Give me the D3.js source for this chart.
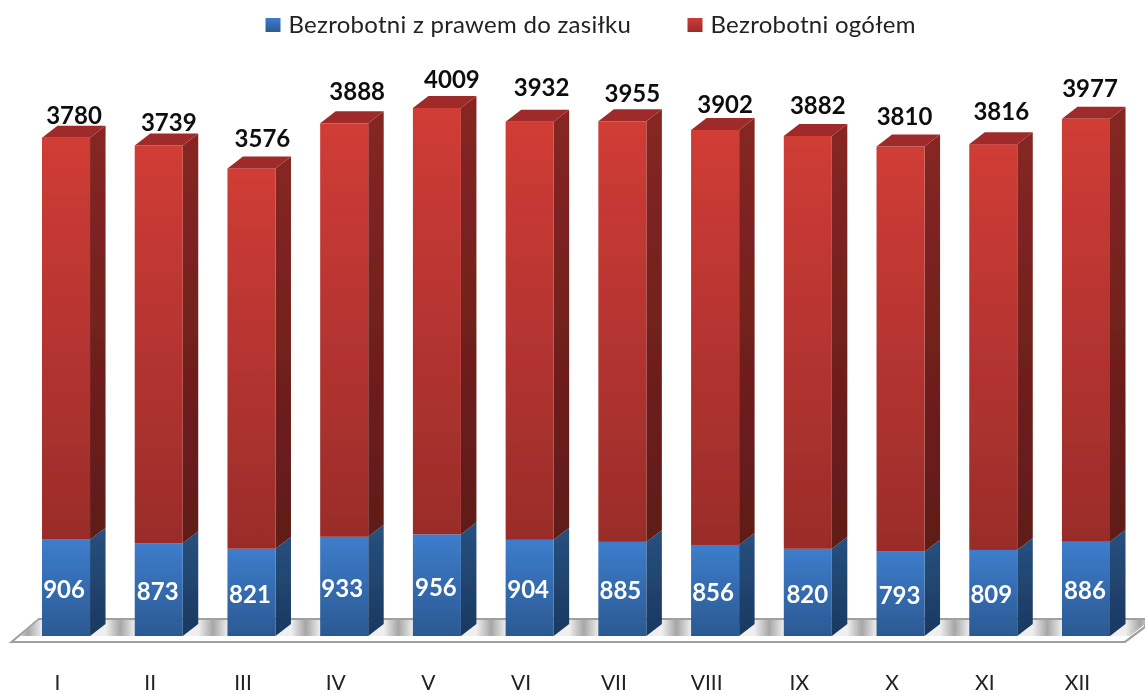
<!DOCTYPE html>
<html>
<head>
<meta charset="utf-8">
<script src="https://cdn.jsdelivr.net/npm/d3@7"></script>
<style>
  html, body { margin: 0; padding: 0; background: #fff; }
  text { font-family: Lato, "Open Sans", sans-serif; }
</style>
</head>
<body>
<div id="chart-area"></div>
<script>
var months = ["I", "II", "III", "IV", "V", "VI", "VII", "VIII", "IX", "X", "XI", "XII"];
var zasilek = [906, 873, 821, 933, 956, 904, 885, 856, 820, 793, 809, 886];
var ogolem = [3780, 3739, 3576, 3888, 4009, 3932, 3955, 3902, 3882, 3810, 3816, 3977];
var seriesNames = ["Bezrobotni z prawem do zasiłku", "Bezrobotni ogółem"];

// the value labels were placed by hand in the original, so they get nudged
var topNudgeX = [8, 10, 11, 13, 15, 12, 10, 10, 10, 4, 8, 4];
var topNudgeY = [22, 23, 30, 32, 28, 34, 28, 25, 30, 30, 33, 30];
var blueNudgeX = [-2, -1, -1.5, -2, -1, -1.5, -2, -2, -0.5, -1, -2, -1];

var width = 1145, height = 693;
var depthX = 15.5, depthY = 12;

var svg = d3.select("#chart-area")
  .append("svg")
    .attr("width", width)
    .attr("height", height)
    .style("display", "block");

var x = d3.scaleBand()
  .domain(months)
  .range([42, 1110])
  .paddingInner(0.482)
  .paddingOuter(0);

var y = d3.scaleLinear()
  .domain([0, 4965])
  .range([636, 108]);

var defs = svg.append("defs");
function gradient(id, top, bottom) {
  var g = defs.append("linearGradient").attr("id", id)
    .attr("x1", 0).attr("y1", 0).attr("x2", 0).attr("y2", 1);
  g.append("stop").attr("offset", "0%").attr("stop-color", top);
  g.append("stop").attr("offset", "100%").attr("stop-color", bottom);
}
gradient("redFront", "#d03c36", "#9a2c2a");
gradient("redSide", "#862623", "#5f1a18");
gradient("blueFront", "#3d7dcc", "#2b5992");
gradient("blueSide", "#26517f", "#1b385f");

// grey patch in every gap between two bars
var floorGrad = defs.append("linearGradient").attr("id", "floorGrad")
  .attr("gradientUnits", "userSpaceOnUse")
  .attr("x1", 74).attr("x2", 166.7).attr("y1", 0).attr("y2", 0)
  .attr("spreadMethod", "repeat");
floorGrad.append("stop").attr("offset", "34%").attr("stop-color", "#efefef");
floorGrad.append("stop").attr("offset", "50%").attr("stop-color", "#a6a6a6");
floorGrad.append("stop").attr("offset", "66%").attr("stop-color", "#efefef");

// source image is a soft upscale
defs.append("filter").attr("id", "soft")
  .attr("filterUnits", "userSpaceOnUse")
  .attr("x", 0).attr("y", 0).attr("width", width).attr("height", height)
  .append("feGaussianBlur").attr("stdDeviation", 0.45);

var root = svg.append("g").attr("filter", "url(#soft)");

// floor
var base = y(0);
root.append("path")
  .attr("d", "M11.5," + (base + 6) + "L39," + (base - 17) + "L1145," + (base - 17)
    + "L1145," + (base - 9) + "L1125," + (base + 6) + "Z")
  .attr("fill", "#fff")
  .attr("stroke", "#a0a0a0")
  .attr("stroke-width", 2.2);
root.append("path")
  .attr("d", "M20," + base + "L39," + (base - 16) + "L1145," + (base - 16)
    + "L1145," + (base - 12) + "L1130," + base + "Z")
  .attr("fill", "url(#floorGrad)");

function sidePath(d, y0, y1) {
  var r = x(d) + x.bandwidth();
  return "M" + r + "," + y0 + "L" + (r + depthX) + "," + (y0 - depthY)
    + "L" + (r + depthX) + "," + (y1 - depthY) + "L" + r + "," + y1 + "Z";
}

var bars = root.selectAll("g.bar")
  .data(months)
  .enter()
  .append("g")
    .attr("class", "bar");

// blue part
bars.append("path")
  .attr("d", function(d, i) { return sidePath(d, y(zasilek[i]), y(0)); })
  .attr("fill", "url(#blueSide)");
bars.append("rect")
  .attr("x", function(d) { return x(d); })
  .attr("y", function(d, i) { return y(zasilek[i]); })
  .attr("width", x.bandwidth())
  .attr("height", function(d, i) { return y(0) - y(zasilek[i]); })
  .attr("fill", "url(#blueFront)");

// red part sits on top of the blue one
bars.append("path")
  .attr("d", function(d, i) { return sidePath(d, y(zasilek[i] + ogolem[i]), y(zasilek[i])); })
  .attr("fill", "url(#redSide)");
bars.append("rect")
  .attr("x", function(d) { return x(d); })
  .attr("y", function(d, i) { return y(zasilek[i] + ogolem[i]); })
  .attr("width", x.bandwidth())
  .attr("height", function(d, i) { return y(zasilek[i]) - y(zasilek[i] + ogolem[i]); })
  .attr("fill", "url(#redFront)");
bars.append("path")
  .attr("d", function(d, i) {
    var t = y(zasilek[i] + ogolem[i]), l = x(d), r = l + x.bandwidth();
    return "M" + l + "," + t + "L" + (l + depthX) + "," + (t - depthY)
      + "L" + (r + depthX) + "," + (t - depthY) + "L" + r + "," + t + "Z";
  })
  .attr("fill", "#9e2b29");

// value labels
bars.append("text")
  .attr("x", function(d, i) { return x(d) + x.bandwidth() / 2 + blueNudgeX[i]; })
  .attr("y", function(d, i) { return (y(zasilek[i]) + y(0)) / 2 + 2; })
  .attr("dy", "0.35em")
  .attr("text-anchor", "middle")
  .style("font-size", "24px")
  .style("font-weight", "bold")
  .style("fill", "#fff")
  .text(function(d, i) { return zasilek[i]; });

bars.append("text")
  .attr("x", function(d, i) { return x(d) + x.bandwidth() / 2 + topNudgeX[i]; })
  .attr("y", function(d, i) { return y(zasilek[i] + ogolem[i]) - topNudgeY[i]; })
  .attr("dy", "0.35em")
  .attr("text-anchor", "middle")
  .style("font-size", "24px")
  .style("font-weight", "bold")
  .style("fill", "#111")
  .text(function(d, i) { return ogolem[i]; });

// month axis, shifted left of the bar centres like in the original
var axis = root.append("g")
  .attr("transform", "translate(-8.5,683)")
  .call(d3.axisBottom(x).tickSize(0).tickPadding(0));
axis.select(".domain").remove();
axis.selectAll("text")
  .attr("y", 0)
  .attr("dy", "0.35em")
  .style("font-family", "Lato, sans-serif")
  .style("font-size", "21px")
  .style("fill", "#222");

// legend
var legendX = [265.5, 687.5];
var legendFill = ["url(#blueFront)", "url(#redFront)"];
var legend = root.selectAll("g.legend")
  .data(seriesNames)
  .enter()
  .append("g")
    .attr("class", "legend")
    .attr("transform", function(d, i) { return "translate(" + legendX[i] + ",18)"; });
legend.append("rect")
  .attr("width", 15)
  .attr("height", 14)
  .attr("fill", function(d, i) { return legendFill[i]; });
legend.append("text")
  .attr("x", 23)
  .attr("y", 7)
  .attr("dy", "0.35em")
  .style("font-size", "24px")
  .style("letter-spacing", "0.27px")
  .style("fill", "#222")
  .text(function(d) { return d; });
</script>
</body>
</html>
